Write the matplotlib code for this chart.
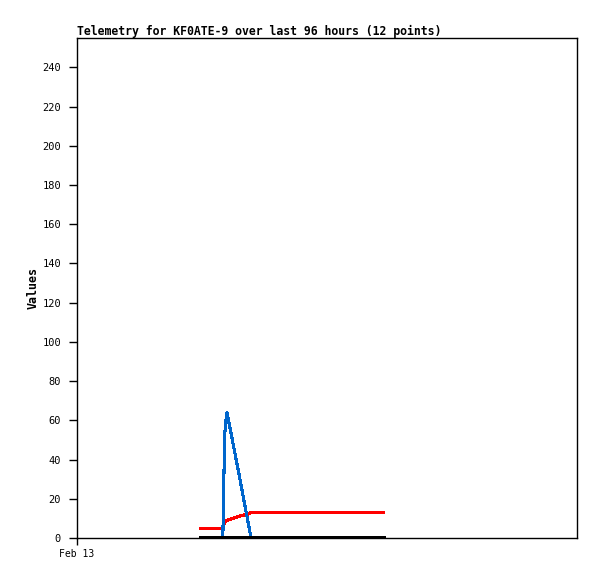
import numpy as np
import matplotlib
matplotlib.use("Agg")
import matplotlib.pyplot as plt

# hours since start of axis (Feb 13 00:00)
hours = [23.8, 28.0, 28.2, 28.4, 28.6, 28.8, 31.0, 33.2, 33.4, 40.0, 50.0, 58.9]
blue_vals = [0, 0, 31, 54, 60, 64, 34, 3, 0, 0, 0, 0]
red_vals = [5, 5, 7, 8, 8.5, 9, 11, 12.5, 13, 13, 13, 13]
black_vals = [0, 0, 0, 0, 0, 0, 0, 0, 0, 0, 0, 0]

title = "Telemetry for KF0ATE-9 over last 96 hours (12 points)"
x_ticks = [0]
x_labels = ["Feb 13"]
y_ticks = list(range(0, 241, 20))

plt.rcParams['font.family'] = ['DejaVu Sans Mono']

fig = plt.figure(figsize=(5.97, 5.79), dpi=100)
ax = fig.add_axes([77/597, 41/579, 500/597, 500/579])

ax.plot(hours, red_vals, color='#ff0000', lw=1.5, antialiased=False)
ax.plot(hours, blue_vals, color='#0066cc', lw=1.5, antialiased=False)
ax.plot(hours, black_vals, color='#000000', lw=1.5, antialiased=False, zorder=5)

ax.set_xlim(0, 96)
ax.set_ylim(0, 255)
ax.set_xticks(x_ticks)
ax.set_xticklabels(x_labels, fontsize=7)
ax.set_yticks(y_ticks)
ax.tick_params(axis='y', labelsize=7.5, length=5.5, width=1, pad=6)
ax.tick_params(axis='x', length=5, width=1, pad=3)
for s in ax.spines.values():
    s.set_linewidth(1)

ax.set_ylabel("Values", fontsize=8.4, fontweight='bold', labelpad=2)
ax.set_title(title, fontsize=8.3, fontweight='bold', loc='left', pad=2)

fig.savefig("out.png", dpi=100)
